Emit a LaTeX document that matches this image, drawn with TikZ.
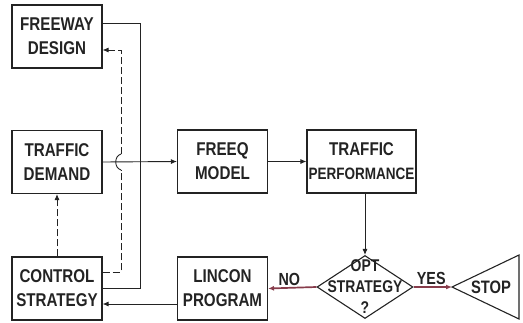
\documentclass[tikz,border=0pt]{standalone}
\usepackage{fontspec}
\setmainfont{Liberation Sans}[FakeStretch=0.82]
\usetikzlibrary{arrows.meta,shapes.geometric}
\definecolor{inkgray}{RGB}{35,35,35}
\definecolor{noyes}{RGB}{135,60,75}
\begin{document}
\begin{tikzpicture}[x=1pt,y=-1pt,
  box/.style={draw=inkgray, line width=1.1pt, minimum width=90pt, minimum height=63pt,
    inner sep=0pt, align=center, text=inkgray, font=\fontsize{18.5}{24}\selectfont\bfseries},
  flow/.style={draw=inkgray, line width=0.9pt},
  tip/.style={-{Latex[length=6pt,width=5pt]}},
  decide/.style={draw=noyes, line width=1.7pt},
  lbl/.style={text=inkgray, inner sep=1.5pt, font=\fontsize{17.5}{20}\selectfont\bfseries}]
\useasboundingbox (0,0) rectangle (523,322);

\node[box] (design) at (57,36.5) {FREEWAY\\DESIGN};
\node[box] (demand) at (57,162) {TRAFFIC\\DEMAND};
\node[box] (control) at (57,288.5) {CONTROL\\STRATEGY};

\node[box] (freeq) at (222.5,161.5) {FREEQ\\MODEL};
\node[box, minimum width=109pt] (perf) at (361.5,161.5) {TRAFFIC\\{\fontsize{16.5}{24}\selectfont PERFORMANCE}};

\node[box] (lincon) at (222.5,288.5) {LINCON\\PROGRAM};
\node[diamond, draw=inkgray, line width=1.1pt, minimum width=96pt, minimum height=63pt, inner sep=0pt] (opt) at (365,287) {};
\node[lbl, align=center, font=\fontsize{17}{21}\selectfont\bfseries] (opttext) at (opt) {OPT\\STRATEGY\\?};

\coordinate (stop) at (452,287);
\draw[draw=inkgray, line width=1.1pt] (stop) -- (519,255) -- (519,319) -- cycle;
\node[lbl, font=\fontsize{18}{20}\selectfont\bfseries] (stoptext) at (491,287) {STOP};

\coordinate (hopa) at (121,170);
\coordinate (hopb) at (121,154);

\draw[flow] ([yshift=13.5pt]design.east) -- (140,23) |- (control.east);
\draw[flow, dash pattern=on 7pt off 3pt] ([yshift=16.5pt]control.east) -| (hopa);
\draw[flow] (hopa) .. controls (114,168) and (114,156) .. (hopb);
\draw[flow, tip, dash pattern=on 7pt off 3pt] (hopb) |- ([yshift=-13.5pt]design.east);
\draw[flow, tip, dash pattern=on 7pt off 3pt] (control.north) -- (demand.south);

\draw[flow, tip] (demand.east) -- (freeq.west);
\draw[flow, tip] (freeq.east) -- (perf.west);
\draw[flow, tip] (opt.north |- perf.south) -- (opt.north);

\draw[decide, tip] (opt.west) -- node[lbl, above, pos=0.56] (no) {NO} (lincon.east);
\draw[decide, tip] (opt.east) -- node[lbl, above, pos=0.46] (yes) {YES} (stop);
\draw[flow, tip] ([yshift=-15.5pt]lincon.west) -- ([yshift=-15.5pt]control.east);
\end{tikzpicture}
\end{document}
